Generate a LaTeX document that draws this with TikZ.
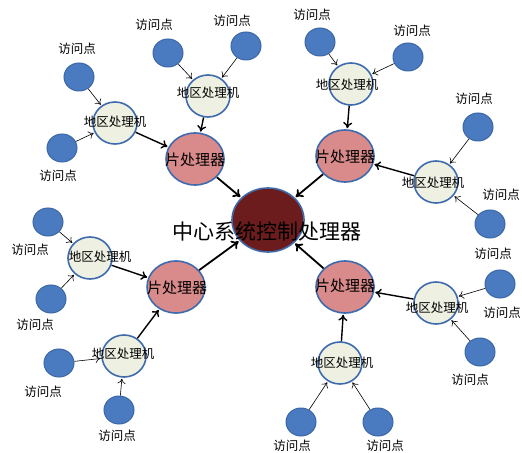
\documentclass[tikz,border=0pt]{standalone}
\usepackage{fontspec}
\newfontfamily\cjk{Noto Sans CJK SC}
\usetikzlibrary{shapes.geometric,arrows.meta}
\definecolor{bord}{HTML}{3F6BAE}
\definecolor{apfill}{HTML}{4A7BC0}
\definecolor{apbord}{HTML}{3A66A6}
\definecolor{regfill}{HTML}{EEF1E2}
\definecolor{chipfill}{HTML}{D98A8A}
\definecolor{cenfill}{HTML}{6C1C1C}
\tikzset{
  ap/.style={ellipse,draw=apbord,line width=1bp,fill=apfill,minimum width=30bp,minimum height=28bp,inner sep=0pt},
  reg/.style={ellipse,draw=bord,line width=1.6bp,fill=regfill,minimum width=44bp,minimum height=42bp,inner sep=0pt},
  chip/.style={ellipse,draw=bord,line width=1.6bp,fill=chipfill,minimum width=58bp,minimum height=52bp,inner sep=0pt},
  cen/.style={ellipse,draw=bord,line width=1.6bp,fill=cenfill,minimum width=72bp,minimum height=64bp,inner sep=0pt},
  aplab/.style={font=\cjk\fontsize{12.5bp}{14bp}\selectfont,inner sep=0pt},
  reglab/.style={font=\cjk\fontsize{12.5bp}{14bp}\selectfont,inner sep=0pt},
  chiplab/.style={font=\cjk\fontsize{15bp}{17bp}\selectfont,inner sep=0pt},
  cenlab/.style={font=\cjk\fontsize{21bp}{24bp}\selectfont,inner sep=0pt},
  thinarr/.style={-{To[length=5bp,width=8bp]},line width=0.6bp,shorten >=1bp},
  medarr/.style={-{To[length=6bp,width=9bp]},line width=1.4bp,shorten >=1bp},
  bigarr/.style={-{To[length=7bp,width=10bp]},line width=1.8bp,shorten >=1bp}
}
\begin{document}
\begin{tikzpicture}[x=1bp,y=-1bp]
\useasboundingbox (0,0) rectangle (522,453);
% center
\node[cen] (C) at (268,220) {};
% chips
\node[chip] (P1) at (195,159) {};
\node[chip] (P2) at (345,156) {};
\node[chip] (P3) at (176,287) {};
\node[chip] (P4) at (345,287) {};
% regionals
\node[reg] (R1) at (115,123) {};
\node[reg] (R2) at (208,96) {};
\node[reg] (R3) at (351,84) {};
\node[reg] (R4) at (436,182) {};
\node[reg] (R5) at (90,258) {};
\node[reg] (R6) at (124,356) {};
\node[reg] (R7) at (436,303) {};
\node[reg] (R8) at (340,363) {};
% access points
\node[ap] (A1) at (79,77) {};
\node[ap] (A2) at (62,148) {};
\node[ap] (A3) at (168,53) {};
\node[ap] (A4) at (246,46) {};
\node[ap] (A5) at (320,42) {};
\node[ap] (A6) at (408,57) {};
\node[ap] (A7) at (478,127) {};
\node[ap] (A8) at (490,224) {};
\node[ap] (A9) at (500,284) {};
\node[ap] (A10) at (480,352) {};
\node[ap] (A11) at (301,422) {};
\node[ap] (A12) at (378,422) {};
\node[ap] (A13) at (48,222) {};
\node[ap] (A14) at (51,299) {};
\node[ap] (A15) at (59,363) {};
\node[ap] (A16) at (119,410) {};
% arrows AP -> regional
\foreach \a/\r in {A1/R1,A2/R1,A3/R2,A4/R2,A5/R3,A6/R3,A7/R4,A8/R4,A9/R7,A10/R7,A11/R8,A12/R8,A13/R5,A14/R5,A15/R6,A16/R6}
  \draw[thinarr] (\a) -- (\r);
% regional -> chip
\foreach \r/\p in {R1/P1,R2/P1,R3/P2,R4/P2,R5/P3,R6/P3,R7/P4,R8/P4}
  \draw[medarr] (\r) -- (\p);
% chip -> center
\foreach \p in {P1,P2,P3,P4}
  \draw[bigarr] (\p) -- (C);
% labels
\node[cenlab] (tC) at (267,231) {中心系统控制处理器};
\node[chiplab] (t1) at (195,160) {片处理器};
\node[chiplab] (t2) at (345,157) {片处理器};
\node[chiplab] (t3) at (177,288) {片处理器};
\node[chiplab] (t4) at (345,286) {片处理器};
\node[reglab] (s1) at (115,122) {地区处理机};
\node[reglab] (s2) at (208,93) {地区处理机};
\node[reglab] (s3) at (347,85) {地区处理机};
\node[reglab] (s4) at (433,183) {地区处理机};
\node[reglab] (s5) at (100,257) {地区处理机};
\node[reglab] (s6) at (123,354) {地区处理机};
\node[reglab] (s7) at (437,308) {地区处理机};
\node[reglab] (s8) at (342,363) {地区处理机};
\node[aplab] (l1) at (77,49) {访问点};
\node[aplab] (l2) at (58,176) {访问点};
\node[aplab] (l3) at (154,25) {访问点};
\node[aplab] (l4) at (232,21) {访问点};
\node[aplab] (l5) at (312,15) {访问点};
\node[aplab] (l6) at (412,31) {访问点};
\node[aplab] (l7) at (474,99) {访问点};
\node[aplab] (l8) at (501,195) {访问点};
\node[aplab] (l9) at (493,254) {访问点};
\node[aplab] (l10) at (502,313) {访问点};
\node[aplab] (l11) at (470,380) {访问点};
\node[aplab] (l12) at (292,446) {访问点};
\node[aplab] (l13) at (385,446) {访问点};
\node[aplab] (l14) at (30,250) {访问点};
\node[aplab] (l15) at (35,325) {访问点};
\node[aplab] (l16) at (43,392) {访问点};
\node[aplab] (l17) at (117,436) {访问点};
\end{tikzpicture}
\end{document}
